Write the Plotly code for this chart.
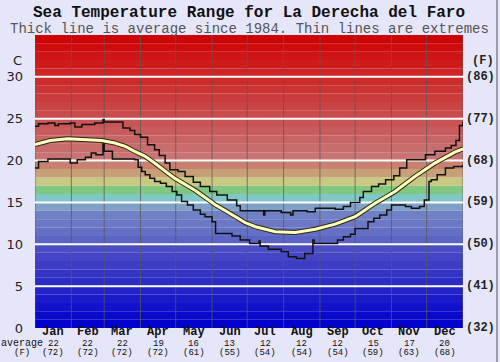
import plotly.graph_objects as go

# ---------------- data ----------------
MONTHS = ["Jan", "Feb", "Mar", "Apr", "May", "Jun", "Jul", "Aug", "Sep", "Oct", "Nov", "Dec"]
MONTH_DAYS = [31, 28, 31, 30, 31, 30, 31, 31, 30, 31, 30, 31]
AVG_C_LABELS = ["22", "22", "22", "19", "16", "13", "12", "12", "12", "15", "17", "20"]
AVG_F_LABELS = ["(72)", "(72)", "(72)", "(72)", "(61)", "(55)", "(54)", "(54)", "(54)", "(59)", "(63)", "(68)"]
C_TICKS = [0, 5, 10, 15, 20, 25, 30]
F_TICK_LABELS = ["(32)", "(41)", "(50)", "(59)", "(68)", "(77)", "(86)"]

AVG_DAYS = [0, 13, 28, 43, 57, 68, 77, 85, 94, 102, 119, 137, 154, 171, 179, 188, 205,
            222, 239, 256, 273, 290, 307, 324, 341, 358, 365]
AVG_T = [21.9, 22.4, 22.6, 22.5, 22.4, 22.1, 21.7, 21.1, 20.5, 19.7, 17.9, 16.4, 14.7, 13.3,
         12.6, 12.1, 11.5, 11.4, 11.8, 12.4, 13.3, 14.9, 16.3, 18.1, 19.7, 21.0, 21.4]

MAX_DAYS = [0, 3, 11, 17, 20, 30, 34, 40, 51, 58, 59, 75, 81, 85, 90, 96, 102, 106, 111, 115,
            122, 128, 135, 141, 149, 155, 164, 172, 175, 195, 196, 210, 218, 220, 232, 239,
            256, 263, 269, 277, 280, 287, 293, 299, 306, 311, 317, 333, 341, 350, 355, 359,
            362, 365]
MAX_T = [24.1, 24.4, 24.5, 24.2, 24.4, 24.5, 24.0, 24.3, 24.5, 24.9, 24.6, 23.9, 23.6, 23.1,
         22.8, 21.9, 21.3, 20.6, 19.7, 18.9, 18.7, 18.1, 17.4, 16.9, 16.3, 15.9, 15.3, 14.6,
         14.0, 13.5, 14.0, 13.8, 13.5, 14.0, 13.9, 14.3, 14.2, 14.5, 15.0, 15.6, 16.3, 16.9,
         17.2, 17.7, 18.2, 19.1, 20.1, 20.7, 21.1, 21.5, 21.8, 22.4, 24.2, 24.6]

MIN_DAYS = [0, 3, 11, 30, 36, 43, 48, 52, 58, 59, 66, 85, 88, 91, 94, 98, 102, 107, 112, 117,
            121, 125, 130, 135, 141, 145, 151, 154, 168, 175, 183, 191, 192, 199, 210, 216,
            223, 230, 237, 238, 258, 263, 269, 273, 284, 289, 294, 300, 304, 316, 321, 328,
            332, 336, 338, 343, 350, 357, 365]
MIN_T = [19.1, 19.9, 20.2, 19.7, 20.1, 20.4, 20.9, 20.7, 22.3, 21.1, 20.2, 20.1, 19.2, 18.7,
         18.3, 17.9, 17.5, 17.3, 16.9, 16.3, 15.9, 15.1, 14.7, 14.1, 13.6, 13.3, 12.7, 11.3,
         11.0, 10.5, 10.1, 10.4, 9.8, 9.4, 9.1, 8.5, 8.3, 8.9, 10.5, 10.1, 10.5, 10.9, 11.2,
         11.9, 12.7, 13.1, 13.5, 14.1, 14.7, 14.5, 14.3, 14.5, 15.3, 17.5, 17.7, 18.3, 19.1,
         19.3, 19.5]

# ---------------- styles ----------------
BAND_COLORS = [
    "#0202CC", "#0A0ACA", "#1212CA", "#1A1AC8", "#2222C8",
    "#2C2CC4", "#3434C4", "#3C3CC4", "#4444C4", "#4C4CC4",
    "#5C64C4", "#6470C4", "#6C78C4", "#7080C4", "#80A0C8",
    "#80C8C8", "#80C880", "#C8C880", "#C8A078", "#C88070",
    "#C87474", "#C86C6C", "#C86464", "#C85C5C", "#C85454",
    "#C84C4C", "#CA4444", "#CA3C3C", "#CC3434", "#CC2C2C",
    "#CE2424", "#CE1C1C", "#CE1414", "#CE0C0C", "#CC0404",
]
BG = "#E6E6FA"
MONO = "Liberation Mono"
SANS = "DejaVu Sans"

YMAX = 35
XMAX = sum(MONTH_DAYS)

fig = go.Figure()

shapes = []
for i, col in enumerate(BAND_COLORS):
    shapes.append(dict(type="rect", xref="paper", yref="y", x0=0, x1=1, y0=i, y1=i + 1,
                       fillcolor=col, line=dict(width=0), layer="below"))
bounds = [0]
for d in MONTH_DAYS:
    bounds.append(bounds[-1] + d)
for b in bounds:
    shapes.append(dict(type="line", xref="x", yref="paper", x0=b, x1=b, y0=0, y1=1,
                       line=dict(color="rgba(90,90,90,0.75)", width=1), layer="below"))
for t in C_TICKS[1:]:
    shapes.append(dict(type="line", xref="paper", yref="y", x0=0, x1=1, y0=t, y1=t,
                       line=dict(color="white", width=2), layer="below"))
# outer right border
shapes.append(dict(type="line", xref="paper", yref="paper", x0=(497 - 35) / 428,
                   x1=(497 - 35) / 428, y0=-0.2, y1=1.2,
                   line=dict(color="#555555", width=1)))

fig.add_trace(go.Scatter(x=MAX_DAYS, y=MAX_T, mode="lines", line=dict(color="#111111", width=1.5, shape="hv"),
                         hoverinfo="skip"))
fig.add_trace(go.Scatter(x=MIN_DAYS, y=MIN_T, mode="lines", line=dict(color="#111111", width=1.5, shape="hv"),
                         hoverinfo="skip"))
fig.add_trace(go.Scatter(x=AVG_DAYS, y=AVG_T, mode="lines", line=dict(color="#2a2a10", width=5),
                         hoverinfo="skip"))
fig.add_trace(go.Scatter(x=AVG_DAYS, y=AVG_T, mode="lines", line=dict(color="#FFFFC0", width=3),
                         hoverinfo="skip"))

ann = []
ann.append(dict(text="<b>Sea Temperature Range for La Derecha del Faro</b>", xref="paper", yref="paper",
                x=0.5, y=1, yanchor="middle", yshift=22, showarrow=False, borderpad=0,
                font=dict(family=MONO, size=16, color="#111111")))
ann.append(dict(text="Thick line is average since 1984. Thin lines are extremes", xref="paper", yref="paper",
                x=0.5, y=1, yanchor="middle", yshift=6, showarrow=False, borderpad=0,
                font=dict(family=MONO, size=14, color="#555555")))
ann.append(dict(text="C", xref="paper", yref="y", x=0, y=31.9, xanchor="right", xshift=-12,
                showarrow=False, borderpad=0, font=dict(family=SANS, size=13, color="#222222")))
ann.append(dict(text="<b>(F)</b>", xref="paper", yref="y", x=1, y=31.9, xanchor="left", xshift=8,
                showarrow=False, borderpad=0, font=dict(family=MONO, size=12, color="#222222")))
for t, lab in zip(C_TICKS, F_TICK_LABELS):
    ann.append(dict(text="<b>" + lab + "</b>", xref="paper", yref="y", x=1, y=t, xanchor="left",
                    xshift=2, showarrow=False, borderpad=0,
                    font=dict(family=MONO, size=12, color="#222222")))

start = 0
for m, d, c, f in zip(MONTHS, MONTH_DAYS, AVG_C_LABELS, AVG_F_LABELS):
    mid = start + d / 2
    start += d
    ann.append(dict(text="<b>" + m + "</b>", xref="x", yref="paper", x=mid, y=0, yanchor="middle",
                    yshift=-4, showarrow=False, borderpad=0,
                    font=dict(family=MONO, size=12, color="#111111")))
    ann.append(dict(text=c, xref="x", yref="paper", x=mid, y=0, yanchor="middle",
                    yshift=-15.5, showarrow=False, borderpad=0,
                    font=dict(family=MONO, size=9, color="#111111")))
    ann.append(dict(text=f, xref="x", yref="paper", x=mid, y=0, yanchor="middle",
                    yshift=-25, showarrow=False, borderpad=0,
                    font=dict(family=MONO, size=9, color="#111111")))
ann.append(dict(text="average", xref="paper", yref="paper", x=0, y=0, xanchor="center", xshift=-13,
                yanchor="middle", yshift=-15.5, showarrow=False, borderpad=0,
                font=dict(family=MONO, size=10, color="#111111")))
ann.append(dict(text="(F)", xref="paper", yref="paper", x=0, y=0, xanchor="center", xshift=-13,
                yanchor="middle", yshift=-25, showarrow=False, borderpad=0,
                font=dict(family=MONO, size=9, color="#111111")))

fig.update_layout(
    width=500, height=362,
    margin=dict(l=35, r=37, t=35, b=34, autoexpand=False),
    paper_bgcolor=BG, plot_bgcolor=BG,
    showlegend=False,
    shapes=shapes,
    annotations=ann,
    xaxis=dict(range=[0, XMAX], showgrid=False, zeroline=False, showticklabels=False,
               ticks="", fixedrange=True, automargin=False),
    yaxis=dict(range=[0, YMAX], tickvals=C_TICKS, showgrid=False, zeroline=False,
               ticks="", ticklabelstandoff=11, fixedrange=True, automargin=False,
               tickfont=dict(family=SANS, size=13, color="#222222")),
)

fig.write_html("out.html",
               config={"displayModeBar": False},
               post_script="document.body.style.margin='0px';document.body.style.background='" + BG + "';")
